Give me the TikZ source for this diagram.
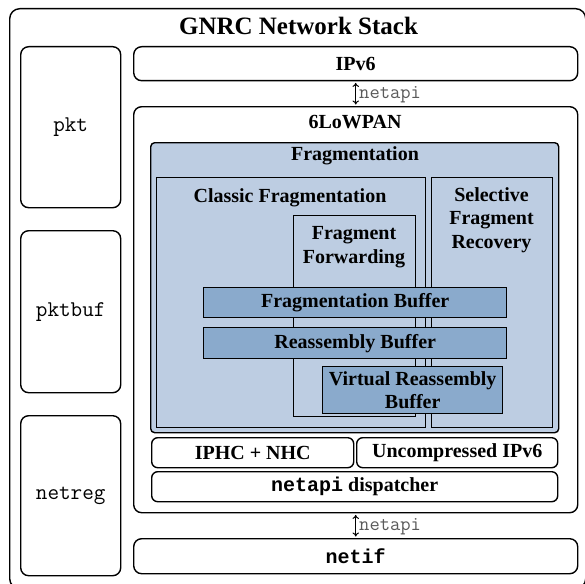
\documentclass[tikz,border=0pt]{standalone}
\usepackage{fontspec}
\setmainfont{Liberation Serif}
\newfontfamily\boldmono{Liberation Mono}
\usetikzlibrary{arrows.meta}
\definecolor{fragblue}{HTML}{BDCDE2}
\definecolor{bufblue}{HTML}{8AAACC}
\definecolor{labelgray}{HTML}{5A5A5A}
\tikzset{
  box/.style={draw=black, line width=1.4pt, inner sep=0pt, anchor=north west},
  rbox/.style={box, rounded corners=8pt},
  sbox/.style={box, rounded corners=6pt},
  frag/.style={box, fill=fragblue},
  buf/.style={box, fill=bufblue},
  bodyfont/.style={font=\fontsize{20}{23.5}\selectfont\bfseries},
  titlefont/.style={font=\fontsize{25}{29}\selectfont\bfseries},
  monofont/.style={font=\fontsize{22.5}{26}\selectfont\ttfamily},
  apilabel/.style={font=\fontsize{20}{22}\selectfont\ttfamily, text=labelgray, inner sep=0pt, anchor=west},
  api/.style={line width=1pt, {To[length=4pt,width=6.5pt]}-{To[length=4pt,width=6.5pt]}, shorten <=1.5pt, shorten >=1.5pt},
  txt/.style={bodyfont, inner sep=0pt, align=center},
}
\begin{document}
\begin{tikzpicture}[x=1pt,y=-1pt]
\useasboundingbox (0,0) rectangle (585,583);
\clip (0,0) rectangle (585,583);
% outer stack
\node[rbox, rounded corners=10pt, minimum width=576pt, minimum height=580pt] (stack) at (9,8) {};
\node[titlefont, anchor=base, inner sep=0pt] (tstack) at (298.5,35) {GNRC Network Stack};
% left column
\node[rbox, monofont, minimum width=100pt, minimum height=161pt] (pkt) at (20,46) {pkt};
\node[rbox, monofont, minimum width=100pt, minimum height=162pt] (pktbuf) at (20,230) {pktbuf};
\node[rbox, monofont, minimum width=100pt, minimum height=160pt] (netreg) at (20,415) {netreg};
% right column
\node[rbox, bodyfont, minimum width=444pt, minimum height=34pt] (ipv6) at (133,46) {IPv6};
\node[rbox, minimum width=444pt, minimum height=406pt] (lowpan) at (133,106) {};
\node[txt, anchor=base] (tlowpan) at (355,128) {6LoWPAN};
\node[rbox, bodyfont, minimum width=444pt, minimum height=35pt] (netif) at (133,538) {{\boldmono netif}};
% fragmentation
\node[frag, rounded corners=4pt, minimum width=408pt, minimum height=290pt] (fragmentation) at (150,142) {};
\node[txt, anchor=base] (tfrag) at (355,160) {Fragmentation};
\node[box, minimum width=269pt, minimum height=250pt] (classic) at (156,177) {};
\node[txt, anchor=base] (tclassic) at (290,202) {Classic Fragmentation};
\node[box, minimum width=121pt, minimum height=250pt] (selective) at (431,177) {};
\node[txt] (tselective) at (491.5,220) {Selective\\Fragment\\Recovery};
\node[frag, minimum width=122pt, minimum height=201pt] (forwarding) at (293,215) {};
\node[txt] (tforwarding) at (354,247) {Fragment\\Forwarding};
\node[buf, bodyfont, minimum width=303pt, minimum height=30pt] (fragbuf) at (203,287) {Fragmentation Buffer};
\node[buf, bodyfont, minimum width=303pt, minimum height=31pt] (reasmbuf) at (203,327) {Reassembly Buffer};
\node[buf, bodyfont, align=center, minimum width=180pt, minimum height=47pt] (vrb) at (322,366) {Virtual Reassembly\\Buffer};
% header compression
\node[sbox, bodyfont, minimum width=202pt, minimum height=30pt] (iphc) at (151,437) {IPHC + NHC};
\node[sbox, bodyfont, minimum width=201pt, minimum height=30pt] (uncomp) at (356,437) {Uncompressed IPv6};
\node[sbox, bodyfont, minimum width=406pt, minimum height=30pt] (dispatcher) at (151,471) {{\boldmono netapi} dispatcher};
% netapi connectors
\draw[api] (ipv6.south) -- (lowpan.north) node[midway, apilabel, xshift=3pt, yshift=-1pt] (api1) {netapi};
\draw[api] (lowpan.south) -- (netif.north) node[midway, apilabel, xshift=3pt, yshift=-1pt] (api2) {netapi};
\end{tikzpicture}
\end{document}
